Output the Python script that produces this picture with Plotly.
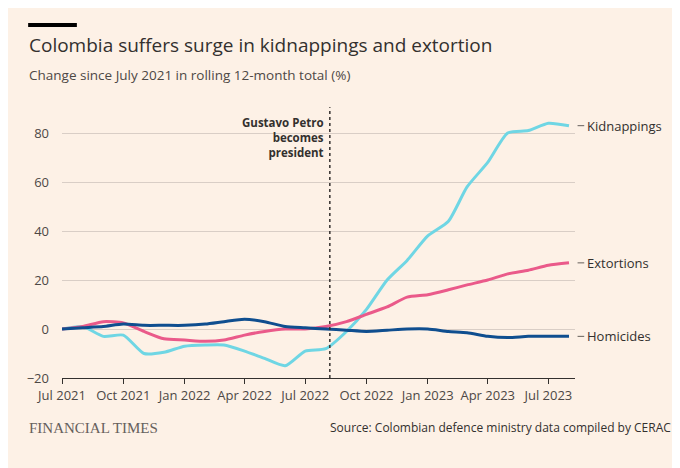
import plotly.graph_objects as go

dates = [
    "2021-07-01", "2021-08-01", "2021-09-01", "2021-10-01", "2021-11-01", "2021-12-01",
    "2022-01-01", "2022-02-01", "2022-03-01", "2022-04-01", "2022-05-01", "2022-06-01",
    "2022-07-01", "2022-08-01", "2022-09-01", "2022-10-01", "2022-11-01", "2022-12-01",
    "2023-01-01", "2023-02-01", "2023-03-01", "2023-04-01", "2023-05-01", "2023-06-01",
    "2023-07-01", "2023-08-01",
]
kidnappings = [0, 1, -3, -2.5, -10, -9.5, -7, -6.5, -6.5, -9, -12, -15, -9, -8, -1, 8,
               20, 28, 38, 44, 58, 68, 80, 81, 84, 83]
extortions = [0, 1, 3, 2.5, -1, -4, -4.5, -5, -4.5, -2.5, -1, 0, 0, 1, 3, 6,
              9, 13, 14, 16, 18, 20, 22.5, 24, 26, 27]
homicides = [0, 0.5, 1, 2, 1.5, 1.5, 1.5, 2, 3, 4, 3, 1, 0.5, 0, -0.5, -1,
             -0.5, 0, 0, -1, -1.5, -3, -3.5, -3, -3, -3]

tick_vals = ["2021-07-01", "2021-10-01", "2022-01-01", "2022-04-01", "2022-07-01",
             "2022-10-01", "2023-01-01", "2023-04-01", "2023-07-01"]
tick_text = ["Jul 2021", "Oct 2021", "Jan 2022", "Apr 2022", "Jul 2022",
             "Oct 2022", "Jan 2023", "Apr 2023", "Jul 2023"]
petro_date = "2022-08-07"

series = [
    ("Kidnappings", kidnappings, "#6fd6e4"),
    ("Extortions", extortions, "#ea5a8a"),
    ("Homicides", homicides, "#0f4e8f"),
]

bg = "#fdf1e6"
font = "Open Sans"
fig = go.Figure()
for name, vals, col in series:
    fig.add_trace(go.Scatter(x=dates, y=vals, mode="lines", name=name,
                             line=dict(color=col, width=3, shape="spline", smoothing=0.6)))
    fig.add_annotation(x=dates[-1], y=vals[-1], text=name, xanchor="left", showarrow=False,
                       xshift=16, font=dict(size=13, color="#33302e", family=font))
    fig.add_shape(type="line", xref="paper", yref="y", x0=1.005, x1=1.018,
                  y0=vals[-1], y1=vals[-1], line=dict(color="#66605c", width=1))

fig.add_shape(type="line", x0=petro_date, x1=petro_date, yref="paper", y0=0, y1=1.01,
              line=dict(color="#33302e", width=1.5, dash="dot"))
fig.add_annotation(x=petro_date, y=0.99, yref="paper", yanchor="top", xanchor="right",
                   xshift=-4, align="right", showarrow=False,
                   text="<b>Gustavo Petro<br>becomes<br>president</b>",
                   font=dict(size=11.5, color="#33302e", family=font))

fig.add_shape(type="line", xref="paper", yref="paper", x0=-0.066, x1=0.029, y0=1.317, y1=1.317,
              line=dict(color="#000", width=4))
fig.add_annotation(xref="paper", yref="paper", x=-0.068, y=1.30, xanchor="left", showarrow=False,
                   text="Colombia suffers surge in kidnappings and extortion",
                   font=dict(size=19, color="#33302e", family=font), yanchor="top")
fig.add_annotation(xref="paper", yref="paper", x=-0.068, y=1.17, xanchor="left", showarrow=False,
                   text="Change since July 2021 in rolling 12-month total (%)",
                   font=dict(size=13.5, color="#4d4845", family=font), yanchor="top")
fig.add_annotation(xref="paper", yref="paper", x=-0.068, y=-0.224, xanchor="left", showarrow=False,
                   text="FINANCIAL TIMES",
                   font=dict(size=15, color="#66605c", family="Liberation Serif"))
fig.add_annotation(xref="paper", yref="paper", x=1.191, y=-0.224, xanchor="right", showarrow=False,
                   text="Source: Colombian defence ministry data compiled by CERAC",
                   font=dict(size=12, color="#33302e", family=font))

fig.update_layout(
    width=672, height=460, paper_bgcolor=bg, plot_bgcolor=bg, showlegend=False,
    margin=dict(l=54, r=105, t=102, b=90, autoexpand=False),
    font=dict(family=font, color="#4d4845", size=13),
    xaxis=dict(tickvals=tick_vals, ticktext=tick_text, range=["2021-07-01", "2023-08-10"],
               showgrid=False, showline=True, linecolor="#33302e", linewidth=1,
               ticks="outside", ticklen=5, tickcolor="#33302e", zeroline=False,
               automargin=False),
    yaxis=dict(range=[-20, 89.4], tickvals=[-20, 0, 20, 40, 60, 80], gridcolor="#d9cec6",
               zeroline=False, ticks="", ticklabelstandoff=12, automargin=False),
)
fig.write_html("out.html")
